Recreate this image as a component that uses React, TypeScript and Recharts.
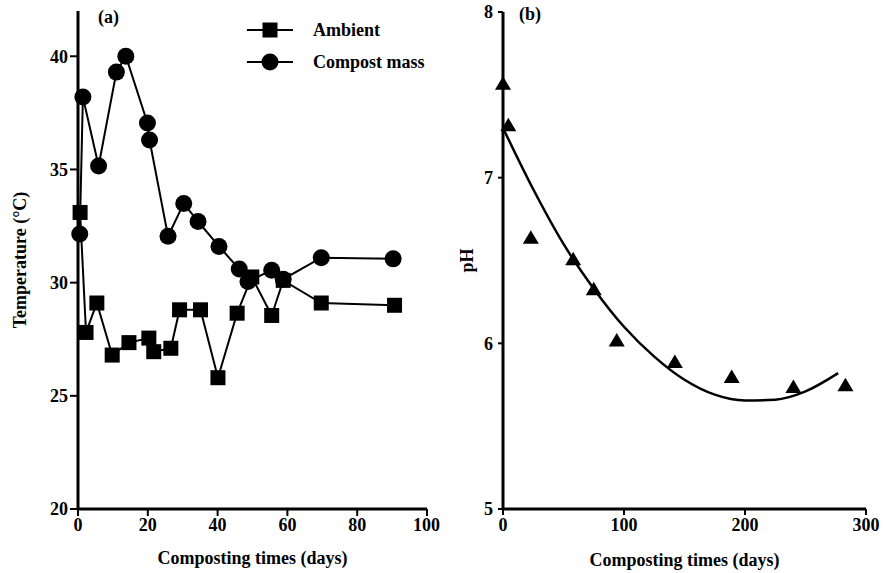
import { LineChart, Line, XAxis, YAxis } from "recharts";

// panel (a): temperature
const ambientDays = [0.6, 2.3, 5.4, 9.8, 14.6, 20.3, 21.7, 26.6, 29.1, 35.1, 40.1, 45.6, 49.8, 55.5, 58.8, 69.7, 90.7];
const ambientTemp = [33.1, 27.8, 29.1, 26.8, 27.35, 27.55, 26.95, 27.1, 28.8, 28.8, 25.8, 28.65, 30.25, 28.55, 30.1, 29.1, 29.0];
const compostDays = [0.5, 1.4, 5.9, 11.0, 13.7, 19.9, 20.5, 25.8, 30.3, 34.4, 40.4, 46.2, 48.7, 55.5, 58.8, 69.7, 90.3];
const compostTemp = [32.15, 38.2, 35.15, 39.3, 40.0, 37.05, 36.3, 32.05, 33.5, 32.7, 31.6, 30.6, 30.05, 30.55, 30.15, 31.1, 31.05];
const tempXTicks = [0, 20, 40, 60, 80, 100];
const tempYTicks = [20, 25, 30, 35, 40];

// panel (b): pH
const phDays = [0, 4.4, 23, 58, 75, 94, 142, 189, 240, 283];
const phValues = [7.57, 7.32, 6.64, 6.51, 6.33, 6.02, 5.89, 5.8, 5.74, 5.75];
const fitDays = [0, 25, 50, 75, 100, 125, 150, 175, 200, 225, 250, 277];
const fitValues = [7.3, 6.93, 6.6, 6.33, 6.1, 5.92, 5.78, 5.69, 5.655, 5.66, 5.71, 5.82];
const phXTicks = [0, 100, 200, 300];
const phYTicks = [5, 6, 7, 8];

const ambient = ambientDays.map((d, i) => ({ day: d, v: ambientTemp[i] }));
const compost = compostDays.map((d, i) => ({ day: d, v: compostTemp[i] }));
const ph = phDays.map((d, i) => ({ day: d, v: phValues[i] }));
const fit = fitDays.map((d, i) => ({ day: d, v: fitValues[i] }));

const FONT = "'Liberation Serif', 'Times New Roman', serif";
const tickStyle = { fontFamily: FONT, fontSize: 18, fontWeight: 700, fill: "#000" };
const titleStyle = { fontFamily: FONT, fontSize: 18, fontWeight: 700, fill: "#000" };

const SquareDot = (p: any) => {
  if (p.cx == null) return <g key={p.index} />;
  return <rect key={p.index} x={p.cx - 7.5} y={p.cy - 7.5} width={15} height={15} fill="#000" />;
};
const CircleDot = (p: any) => {
  if (p.cx == null) return <g key={p.index} />;
  return <circle key={p.index} cx={p.cx} cy={p.cy} r={8.5} fill="#000" />;
};
const TriangleDot = (p: any) => {
  if (p.cx == null) return <g key={p.index} />;
  const { cx, cy } = p;
  return <polygon key={p.index} points={`${cx},${cy - 7} ${cx + 8},${cy + 6.5} ${cx - 8},${cy + 6.5}`} fill="#000" />;
};

export default function App() {
  return (
    <div style={{ position: "absolute", left: 0, top: 0, width: 885, height: 573, background: "#fff", fontFamily: FONT }}>
      <div style={{ position: "absolute", left: 0, top: 0 }}>
        <LineChart width={440} height={573} margin={{ top: 11, right: 13, bottom: 0, left: 0 }}>
          <XAxis
            type="number"
            dataKey="day"
            domain={[0, 100]}
            ticks={tempXTicks}
            allowDuplicatedCategory={false}
            height={64}
            stroke="#000"
            strokeWidth={3}
            tickSize={7}
            tickMargin={2}
            tick={tickStyle}
            tickLine={{ stroke: "#000", strokeWidth: 2 }}
            label={{ value: "Composting times (days)", position: "insideBottom", offset: 9, style: titleStyle }}
          />
          <YAxis
            type="number"
            domain={[20, 42]}
            ticks={tempYTicks}
            width={78}
            stroke="#000"
            strokeWidth={3}
            tickSize={8}
            tickMargin={2}
            tick={tickStyle}
            tickLine={{ stroke: "#000", strokeWidth: 2 }}
            label={{ value: "Temperature (°C)", angle: -90, position: "insideLeft", offset: 20, style: { ...titleStyle, textAnchor: "middle" } }}
          />
          <Line data={compost} dataKey="v" type="linear" stroke="#000" strokeWidth={2} dot={CircleDot} isAnimationActive={false} />
          <Line data={ambient} dataKey="v" type="linear" stroke="#000" strokeWidth={2} dot={SquareDot} isAnimationActive={false} />
        </LineChart>
      </div>
      <div style={{ position: "absolute", left: 98, top: 7, fontSize: 18, fontWeight: 700 }}>(a)</div>
      <div style={{ position: "absolute", left: 245, top: 18 }}>
        <svg width={200} height={62}>
          <line x1={2} y1={12} x2={48} y2={12} stroke="#000" strokeWidth={2} />
          <rect x={17.5} y={4.5} width={15} height={15} fill="#000" />
          <text x={68} y={18} style={{ fontFamily: FONT, fontSize: 18, fontWeight: 700 }}>Ambient</text>
          <line x1={2} y1={44} x2={48} y2={44} stroke="#000" strokeWidth={2} />
          <circle cx={25} cy={44} r={8.5} fill="#000" />
          <text x={68} y={50} style={{ fontFamily: FONT, fontSize: 18, fontWeight: 700 }}>Compost mass</text>
        </svg>
      </div>

      <div style={{ position: "absolute", left: 440, top: 0 }}>
        <LineChart width={445} height={573} margin={{ top: 12, right: 19, bottom: 0, left: 0 }}>
          <XAxis
            type="number"
            dataKey="day"
            domain={[0, 300]}
            ticks={phXTicks}
            allowDuplicatedCategory={false}
            height={64}
            stroke="#000"
            strokeWidth={3}
            tickSize={6}
            tickMargin={3}
            tick={tickStyle}
            tickLine={{ stroke: "#000", strokeWidth: 2 }}
            label={{ value: "Composting times (days)", position: "insideBottom", offset: 7, style: titleStyle }}
          />
          <YAxis
            type="number"
            domain={[5, 8]}
            ticks={phYTicks}
            width={63}
            stroke="#000"
            strokeWidth={3}
            tickSize={5}
            tickMargin={5}
            tick={tickStyle}
            tickLine={{ stroke: "#000", strokeWidth: 2 }}
            label={{ value: "pH", angle: -90, position: "insideLeft", offset: 27, style: { ...titleStyle, textAnchor: "middle" } }}
          />
          <Line data={fit} dataKey="v" type="monotone" stroke="#000" strokeWidth={2.5} dot={false} isAnimationActive={false} />
          <Line data={ph} dataKey="v" type="linear" stroke="none" strokeWidth={0} dot={TriangleDot} isAnimationActive={false} />
        </LineChart>
      </div>
      <div style={{ position: "absolute", left: 519, top: 4, fontSize: 18, fontWeight: 700 }}>(b)</div>
    </div>
  );
}
